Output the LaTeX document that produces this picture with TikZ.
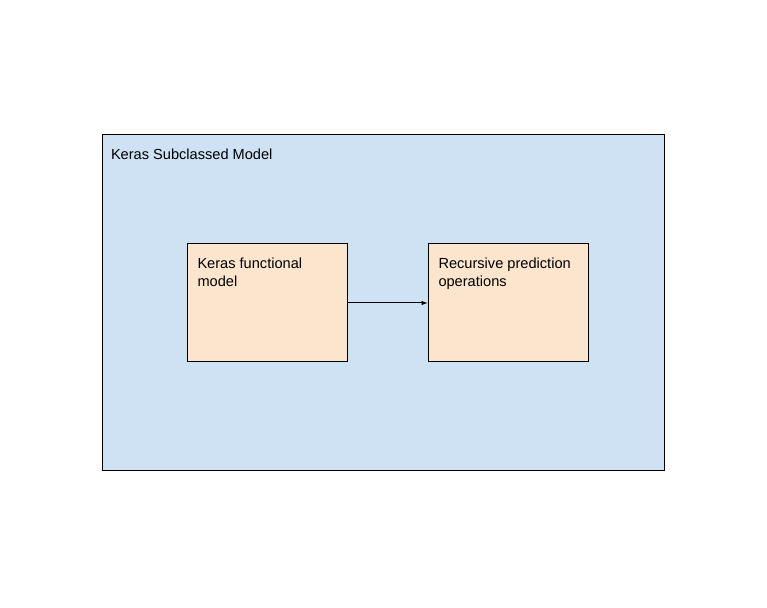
\documentclass[tikz,border=0pt]{standalone}
\usepackage{fontspec}
\setmainfont{Liberation Sans}
\usepackage{tikz}
\usetikzlibrary{arrows,positioning}
\definecolor{modelblue}{HTML}{CFE2F3}
\definecolor{blockorange}{HTML}{FCE5CD}

\begin{document}
\begin{tikzpicture}[
    x=1pt, y=1pt,
    >=latex,
    line width=1pt,
    font=\fontsize{14.6}{18}\selectfont,
    model/.style={
		rectangle,
		draw=black,
		fill=modelblue,
		minimum width=562pt,
		minimum height=336pt,
		inner sep=0pt
	},
    block/.style={
		rectangle,
		draw=black,
		fill=blockorange,
		minimum width=160pt,
		minimum height=118pt,
		inner sep=0pt
	},
	caption/.style={
		anchor=north west,
		align=left,
		inner sep=0pt
	}
  ]
  \useasboundingbox (0,0) rectangle (767,607);

  % We start by placing the blocks
  \node [model] (subclassed) at (383,304) {};
  \node [caption] (subclassedtext) at (110.5,458.5) {Keras Subclassed Model};

  \node [block] (functional) at (267,304) {};
  \node [caption] (functionaltext) at (197,349.5) {Keras functional\\model};

  \node [block, right=80pt of functional] (recursive) {};
  \node [caption] (recursivetext) at (438,349.5) {Recursive prediction\\operations};

  \draw [->] (functional) -- (recursive);

\end{tikzpicture}
\end{document}
